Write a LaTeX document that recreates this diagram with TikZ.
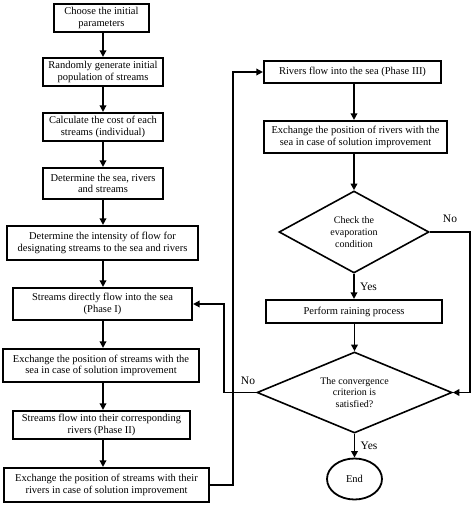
\documentclass[tikz,border=0pt]{standalone}
\usepackage{fontspec}
\setmainfont{Liberation Serif}
\usetikzlibrary{shapes.geometric,arrows.meta}
\begin{document}
\begin{tikzpicture}[x=1pt,y=-1pt,
  box/.style={draw, line width=2.2pt, inner sep=1pt, align=center, font=\fontsize{10.5}{11.7}\selectfont},
  dia/.style={draw, diamond, line width=1.6pt, inner sep=0pt, align=center, font=\fontsize{10}{11.7}\selectfont},
  arr/.style={line width=1.8pt, -{Triangle[length=6.5pt,width=6.5pt]}},
  lab/.style={font=\fontsize{11.5}{12}\selectfont}]
\useasboundingbox (0,0) rectangle (474,508);
% left column
\node[box, minimum width=95pt, minimum height=28pt] (b1) at (101.5,18) {Choose the initial\\parameters};
\node[box, minimum width=120pt, minimum height=28pt] (b2) at (103,72) {Randomly generate initial\\population of streams};
\node[box, minimum width=120pt, minimum height=28pt] (b3) at (103,127) {Calculate the cost of each\\streams (individual)};
\node[box, minimum width=120pt, minimum height=31pt] (b4) at (103,183.5) {Determine the sea, rivers\\and streams};
\node[box, minimum width=191pt, minimum height=34pt] (b5) at (102.5,243) {Determine the intensity of flow for\\designating streams to the sea and rivers};
\node[box, minimum width=179pt, minimum height=32pt] (b6) at (102.5,304) {Streams directly flow into the sea\\(Phase I)};
\node[box, minimum width=196pt, minimum height=33pt] (b7) at (101,365.5) {Exchange the position of streams with the\\sea in case of solution improvement};
\node[box, minimum width=177pt, minimum height=28pt] (b8) at (101.5,425) {Streams flow into their corresponding\\rivers (Phase II)};
\node[box, minimum width=205pt, minimum height=34pt] (b9) at (106.5,485) {Exchange the position of streams with their\\rivers in case of solution improvement};
% right column
\node[box, minimum width=177pt, minimum height=22pt] (riv) at (352.5,72) {Rivers flow into the sea (Phase III)};
\node[box, minimum width=183pt, minimum height=32pt] (exr) at (355.5,137) {Exchange the position of rivers with the\\sea in case of solution improvement};
\node[dia, minimum width=150pt, minimum height=82pt, aspect=1.83] (d1) at (354,232) {Check the\\evaporation\\condition};
\node[box, minimum width=176pt, minimum height=23pt] (rain) at (354,311.5) {Perform raining process};
\node[dia, minimum width=195pt, minimum height=81pt, aspect=2.4] (d2) at (354.5,392.5) {The convergence\\criterion is\\satisfied?};
\node[draw, ellipse, line width=1.8pt, minimum width=55pt, minimum height=41pt, inner sep=0pt, font=\fontsize{10.5}{12}\selectfont] (end) at (354.5,479) {End};
% column coordinates
\coordinate (cx) at (103,0);
\coordinate (cr) at (354,0);
\coordinate (r1) at (233,0);
\coordinate (r2) at (470,0);
\coordinate (r3) at (224,0);
% left arrows
\draw[arr] (b1.south -| cx) -- (b2.north -| cx);
\draw[arr] (b2.south -| cx) -- (b3.north -| cx);
\draw[arr] (b3.south -| cx) -- (b4.north -| cx);
\draw[arr] (b4.south -| cx) -- (b5.north -| cx);
\draw[arr] (b5.south -| cx) -- (b6.north -| cx);
\draw[arr] (b6.south -| cx) -- (b7.north -| cx);
\draw[arr] (b7.south -| cx) -- (b8.north -| cx);
\draw[arr] (b8.south -| cx) -- (b9.north -| cx);
% right arrows
\draw[arr] (riv.south -| cr) -- (exr.north -| cr);
\draw[arr] (exr.south -| cr) -- (d1.north);
\draw[arr] (d1.south) -- (rain.north -| d1.south) node[lab, midway, right=2pt] {Yes};
\draw[arr] (rain.south -| d2.north) -- (d2.north);
\draw[arr] (d2.south) -- (end.north) node[lab, midway, right=2pt] {Yes};
% loops
\draw[arr] (b9.east) -- (b9.east -| r1) -- (riv.west -| r1) -- (riv.west);
\draw[arr] (d1.east) -- (d1.east -| r2) -- (d2.east -| r2) -- (d2.east);
\draw[arr] (d2.west) -- (d2.west -| r3) -- (b6.east -| r3) -- (b6.east);
\node[lab] (no1) at (450,219) {No};
\node[lab] (no2) at (248,381) {No};
\end{tikzpicture}
\end{document}
